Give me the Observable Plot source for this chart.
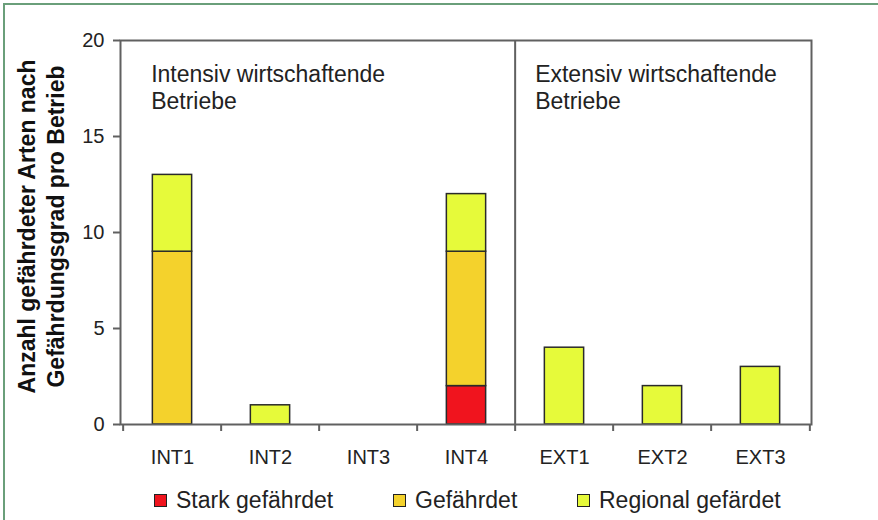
<!DOCTYPE html>
<html><head><meta charset="utf-8">
<script src="https://cdn.jsdelivr.net/npm/d3@7"></script>
<script src="https://cdn.jsdelivr.net/npm/@observablehq/plot@0.6"></script>
<style>
body{margin:0;background:#fff;font-family:"Liberation Sans",Arial,sans-serif;}
#wrap{position:relative;width:878px;height:520px;overflow:hidden;background:#fff;}
#border{position:absolute;left:3px;top:3px;width:900px;height:600px;border-top:2px solid #6a9f7a;border-left:2px solid #6a9f7a;z-index:5;pointer-events:none;}
#chart{position:absolute;left:0;top:0;}
#legend{position:absolute;left:0;top:488px;width:878px;height:24px;}
.item{position:absolute;top:0;height:24px;display:flex;align-items:center;font-size:23px;color:#222;white-space:nowrap;}
.sw{width:11px;height:11px;border:1px solid #222;margin-right:9px;flex:none;}
</style></head><body>
<div id="wrap"><div id="chart"></div><div id="legend"></div><div id="border"></div></div>
<script>
const categories = ["INT1","INT2","INT3","INT4","EXT1","EXT2","EXT3"];
const series = ["Stark gefährdet","Gefährdet","Regional gefärdet"];
const colors = ["#f0141e","#f4d22c","#e6fa3a"];
const stark      = [0,0,0,2,0,0,0];
const gefaehrdet = [9,0,0,7,0,0,0];
const regional   = [4,1,0,3,4,2,3];
const yTicks = [0,5,10,15,20];
const groupLabelInt = "Intensiv wirtschaftende\nBetriebe";
const groupLabelExt = "Extensiv wirtschaftende\nBetriebe";
const yLabel = "Anzahl gefährdeter Arten nach\nGefährdungsgrad pro Betrieb";

const seriesValues = [stark, gefaehrdet, regional];
const rows = [];
categories.forEach((c, i) => series.forEach((s, j) => {
  if (seriesValues[j][i] > 0) rows.push({cat: c, series: s, value: seriesValues[j][i]});
}));

const W = 878, H = 470, mL = 120, mR = 67, mT = 40, mB = 46;
const step = (W - mL - mR) / categories.length;
const barW = 40;
const inset = (step - barW) / 2;
const axisColor = "#606060";

const chart = Plot.plot({
  width: W, height: H,
  marginLeft: mL, marginRight: mR, marginTop: mT, marginBottom: mB,
  style: {fontFamily: "Liberation Sans, Arial, sans-serif", color: "#222", background: "white", overflow: "visible"},
  x: {type: "band", domain: categories, padding: 0, axis: null, label: null},
  y: {domain: [0, 20], axis: null, label: null},
  color: {domain: series, range: colors},
  marks: [
    Plot.barY(rows, {x: "cat", y: "value", fill: "series", stroke: "#2a2a2a", strokeWidth: 1.5, insetLeft: inset, insetRight: inset}),
    Plot.frame({stroke: axisColor, strokeWidth: 2}),
    Plot.ruleX(["EXT1"], {x: d => d, dx: -step / 2, stroke: axisColor, strokeWidth: 2}),
    Plot.axisY({ticks: yTicks, label: null, tickSize: 7, tickPadding: 9, fontSize: 20, stroke: axisColor, strokeWidth: 2, fill: "#222"}),
    Plot.axisX({label: null, tickSize: 0, tickPadding: 25, fontSize: 20, fill: "#222"}),
    Plot.axisX({label: null, tickSize: 7, tickFormat: () => "", dx: -step / 2, stroke: axisColor, strokeWidth: 2}),
    Plot.axisX(["EXT3"], {label: null, tickSize: 7, tickFormat: () => "", dx: step / 2, stroke: axisColor, strokeWidth: 2}),
    Plot.text([groupLabelInt], {x: () => "INT1", text: d => d, frameAnchor: "top", textAnchor: "start", dx: 28 - step / 2, dy: 23, fontSize: 23, lineHeight: 1.15, fill: "#222"}),
    Plot.text([groupLabelExt], {x: () => "EXT1", text: d => d, frameAnchor: "top", textAnchor: "start", dx: 20 - step / 2, dy: 23, fontSize: 23, lineHeight: 1.15, fill: "#222"}),
    Plot.text([yLabel], {text: d => d, frameAnchor: "left", textAnchor: "middle", lineAnchor: "middle", rotate: -90, dx: -80, dy: -6, fontSize: 23, fontWeight: "bold", lineHeight: 1.26, fill: "#111"})
  ]
});
document.getElementById("chart").appendChild(chart);

const legendLeft = [154, 393, 577];
const legend = document.getElementById("legend");
series.forEach((s, j) => {
  const item = document.createElement("div");
  item.className = "item";
  item.style.left = legendLeft[j] + "px";
  const sw = document.createElement("span");
  sw.className = "sw";
  sw.style.background = colors[j];
  const t = document.createElement("span");
  t.textContent = s;
  item.appendChild(sw); item.appendChild(t);
  legend.appendChild(item);
});
</script>
</body></html>
